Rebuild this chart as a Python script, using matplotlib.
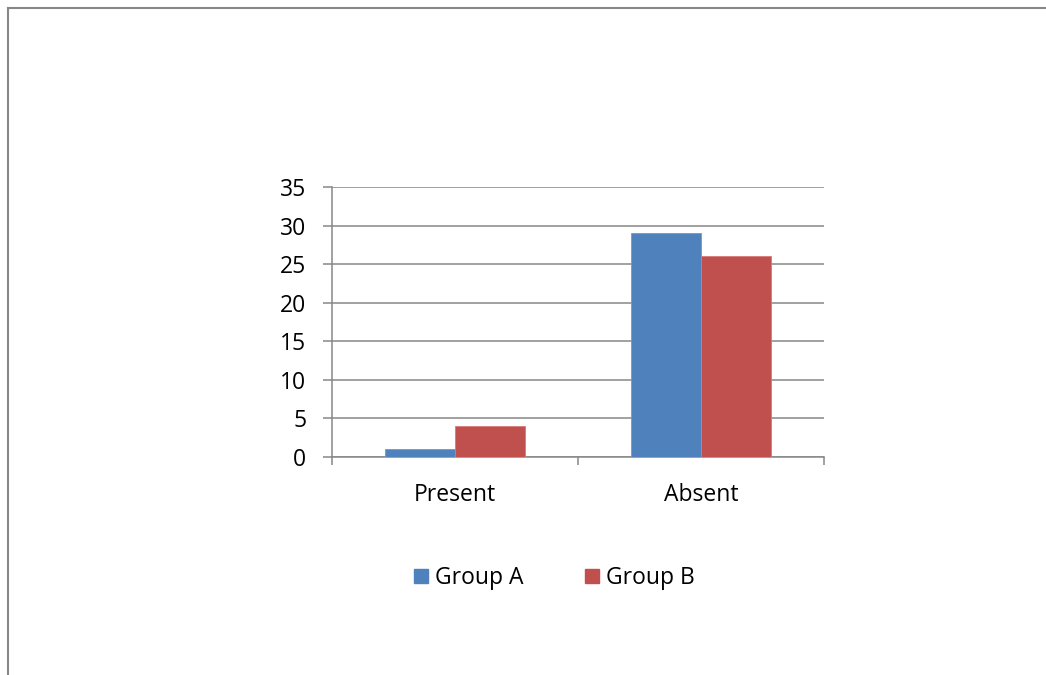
import numpy as np
import matplotlib.pyplot as plt
from matplotlib.lines import Line2D
from matplotlib.patches import Patch

# counts per category
categories = ["Present", "Absent"]
group_a = [1, 29]
group_b = [4, 26]

blue = "#4f81bd"
red = "#c0504d"
grey = "#878787"

plt.rcParams["font.family"] = ["Open Sans", "DejaVu Sans"]

fig = plt.figure(figsize=(10.46, 6.75), dpi=100)
ax = fig.add_axes([0.3174, 0.3230, 0.4704, 0.4000])

x = np.arange(len(categories))
w = 70 / 246
ax.bar(x - w / 2, group_a, w, color=blue, edgecolor="#6d9bd1", linewidth=0.6, label="Group A", zorder=3)
ax.bar(x + w / 2, group_b, w, color=red, edgecolor="#d97a78", linewidth=0.6, label="Group B", zorder=3)

ax.set_xlim(-0.5, 1.5)
ax.set_ylim(0, 35)
ax.set_yticks(range(0, 36, 5))
ax.set_xticks(x)
ax.set_xticklabels(categories)
ax.set_xticks([-0.5, 0.5, 1.5], minor=True)

ax.yaxis.grid(True, color=grey, linewidth=1.1, zorder=0)
ax.set_axisbelow(True)
for s in ["top", "right"]:
    ax.spines[s].set_visible(False)
for s in ["left", "bottom"]:
    ax.spines[s].set_color(grey)
    ax.spines[s].set_linewidth(1.1)

ax.tick_params(axis="y", length=6.5, width=1.1, color=grey, pad=12, labelsize=16.5)
ax.tick_params(axis="x", which="major", length=0, pad=18.5, labelsize=16.5)
ax.tick_params(axis="x", which="minor", length=6, width=1.1, color=grey)

handles = [Patch(color=blue), Patch(color=red)]
fig.legend(handles, ["Group A", "Group B"], loc="center", bbox_to_anchor=(0.5297, 0.1437),
           ncol=2, frameon=False, fontsize=16.5, handlelength=0.6, handleheight=0.6,
           handletextpad=0.3, columnspacing=2.7)

# outer chart frame
fig.add_artist(Line2D([8 / 1046, 1], [1 - 8 / 675] * 2, color=grey, linewidth=1.5))
fig.add_artist(Line2D([8 / 1046] * 2, [0, 1 - 8 / 675], color=grey, linewidth=1.5))

fig.savefig("out.png", dpi=100, facecolor="white")
